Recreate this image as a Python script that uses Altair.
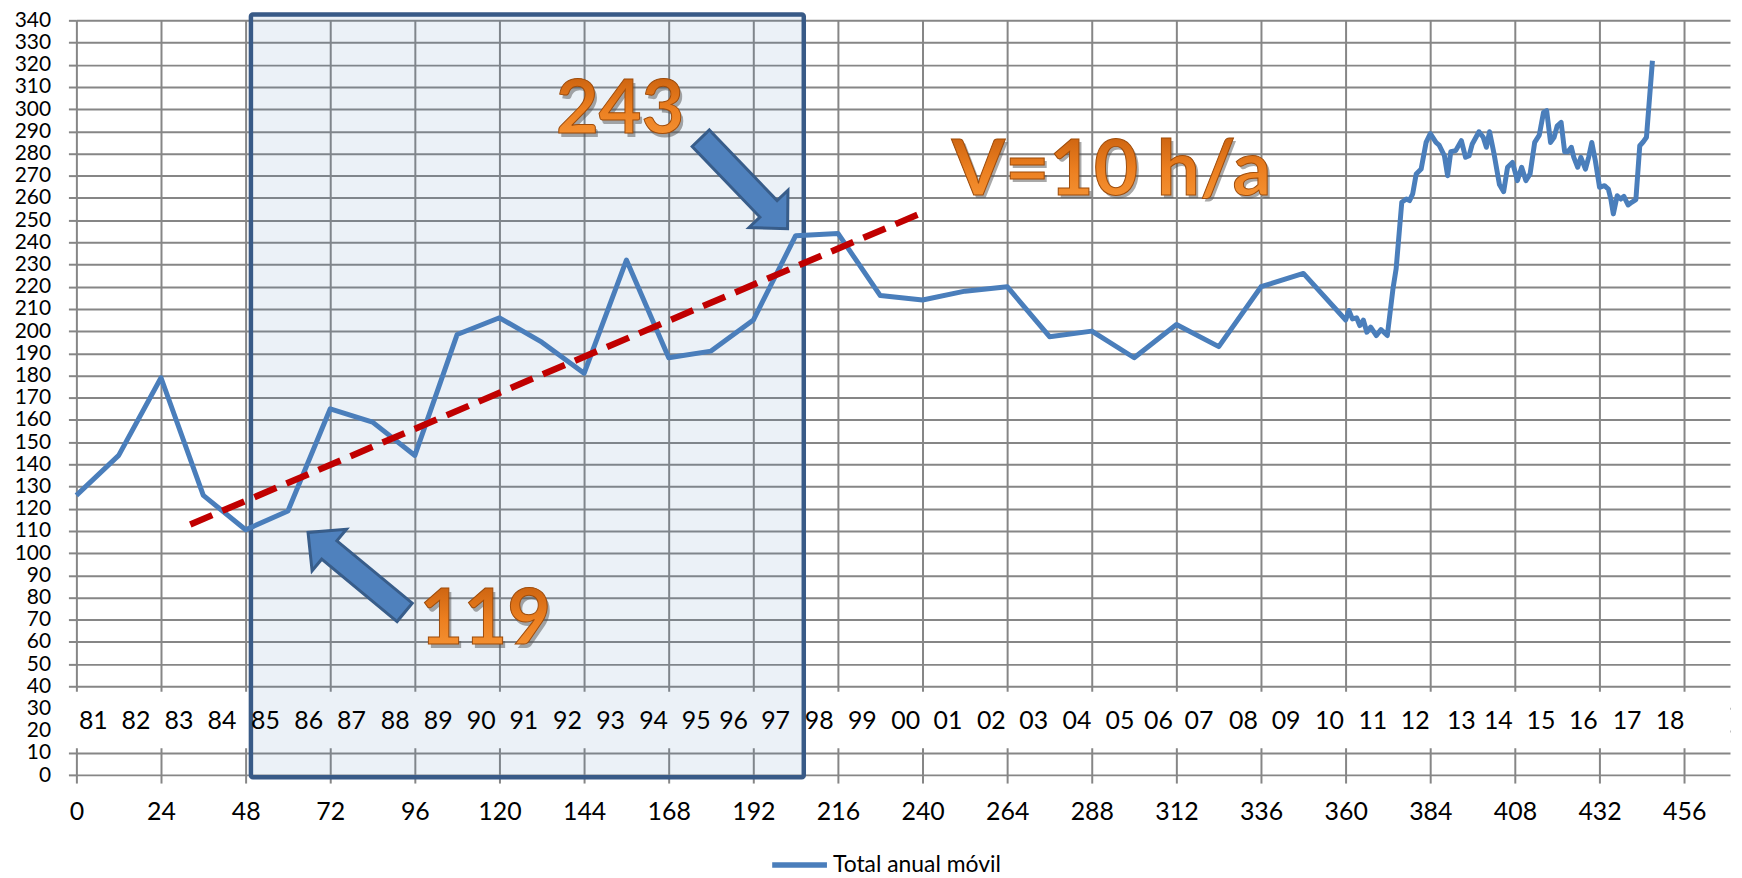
import altair as alt
import pandas as pd

# ---------------- data ----------------
series_name = "Total anual móvil"

# yearly points (months since Jan 1981)
annual_x = [0, 12, 24, 36, 48, 60, 72, 84, 96, 108, 120, 132, 144, 156, 168, 180,
            192, 204, 216, 228, 240, 252, 264, 276, 288, 300, 312, 324, 336, 348]
annual_y = [126, 144, 179, 126, 110.5, 119, 165, 159, 144, 198.5, 206, 195, 181, 232, 188, 191,
            205, 243, 244, 216, 214, 218, 220, 197.5, 200, 188, 203, 193, 220, 226]

# monthly points from 2011 on
monthly_x = [360, 360.9, 361.9, 363.1, 364, 365, 366, 367.1, 368.7, 370, 371.8, 373.4, 374.3,
             375.9, 377.2, 378.1, 379, 380, 381.4, 382.8, 384, 385.6, 386.5, 388, 388.9, 389.8,
             391.2, 392.8, 394, 395, 395.9, 397.8, 399, 399.9, 400.8, 402, 403.6, 404.8, 405.9,
             407.3, 408.7, 409.9, 411.1, 412.3, 413.6, 414.9, 416.1, 417, 418.1, 419.1, 420,
             421.1, 422.1, 423, 424, 424.7, 425.8, 426.7, 428, 428.9, 429.8, 430.8, 432, 433.4,
             434.5, 435.2, 435.9, 437, 438, 438.9, 440.1, 441.1, 442.3, 443.4, 444.4, 445.3, 447]
monthly_y = [205, 209.3, 205.5, 206, 202.5, 205, 199.5, 201.8, 198, 200.7, 198, 219, 228,
             258, 259.5, 258.8, 261.8, 270.8, 273, 285, 289, 285, 283.8, 279, 270, 280.8,
             281.3, 285.8, 278.3, 279, 284.3, 289.8, 287.3, 282.8, 289.8, 280.5, 266, 262.8, 273.8,
             276, 267.8, 273.8, 267.8, 270.8, 285, 288.3, 298.5, 299.3, 285, 287.3, 292.5,
             294, 280.8, 280.8, 282.8, 278.3, 273.8, 278.3, 273, 278.3, 285, 276.8, 264.8, 265.5,
             264, 259.5, 252.8, 261, 259.5, 260.7, 256.8, 258, 259.2, 283.5, 285.3, 287.3, 321.8]

# year labels row
year_labels = ["81", "82", "83", "84", "85", "86", "87", "88", "89", "90", "91", "92", "93",
               "94", "95", "96", "97", "98", "99", "00", "01", "02", "03", "04", "05", "06",
               "07", "08", "09", "10", "11", "12", "13", "14", "15", "16", "17", "18"]
year_pos = [4.8, 16.9, 29.1, 41.3, 53.6, 65.9, 78.0, 90.4, 102.6, 114.8, 126.9, 139.3, 151.5,
            163.7, 175.8, 186.4, 198.3, 210.7, 222.9, 235.2, 247.2, 259.5, 271.5, 283.8, 296.0,
            306.9, 318.4, 331.0, 343.1, 355.4, 367.7, 379.7, 392.8, 403.3, 415.4, 427.4, 439.8, 452.0]
year_row_y = 24.3

# trend line
trend_x = [32.3, 241.2]
trend_y = [112.9, 254.2]

# highlighted period box and white label band
box_x = [49.5, 206.3]
box_y = [-1.0, 342.6]
band_x = [-3.0, 469.0]
band_y = [12.1, 37.6]

# annotations
ann_text = ["243", "119", "V=10 h/a"]
ann_x = [154.2, 116.0, 293.6]
ann_y = [299.0, 69.3, 271.7]
ann_size = [74, 76, 77]

arrow_x = [79.4, 189.4]
arrow_y = [91.3, 266.5]
arrow_angle = [219.6, 46.2]

x_ticks = list(range(0, 457, 24))
y_ticks = list(range(0, 341, 10))
x_max = 469
y_max = 340

# ---------------- frames ----------------
df_line = pd.DataFrame({
    "x": annual_x + monthly_x,
    "y": annual_y + monthly_y,
})
df_line["series"] = series_name

df_trend = pd.DataFrame({"x": trend_x, "y": trend_y})
df_box = pd.DataFrame({"x1": [box_x[0]], "x2": [box_x[1]], "y1": [box_y[0]], "y2": [box_y[1]]})
df_band = pd.DataFrame({"x1": [band_x[0]], "x2": [band_x[1]], "y1": [band_y[0]], "y2": [band_y[1]]})
df_years = pd.DataFrame({"x": year_pos, "label": year_labels})
df_years["y"] = year_row_y
df_ann = pd.DataFrame({"x": ann_x, "y": ann_y, "t": ann_text, "s": ann_size})
df_arrow = pd.DataFrame({"x": arrow_x, "y": arrow_y, "a": arrow_angle})

# ---------------- scales & axes ----------------
GRID = "#868686"
FONT = "Lato"
xscale = alt.Scale(domain=[0, x_max], nice=False, zero=False)
yscale = alt.Scale(domain=[0, y_max], nice=False, zero=False)
xaxis = alt.Axis(values=x_ticks, title=None, grid=True, gridColor=GRID, gridWidth=2,
                 tickColor=GRID, tickWidth=2, tickSize=8, domain=False,
                 labelFont=FONT, labelFontSize=25, labelColor="black", labelPadding=16.5,
                 labelOverlap=False, labelFlush=False)
yaxis = alt.Axis(values=y_ticks, title=None, grid=True, gridColor=GRID, gridWidth=2,
                 tickColor=GRID, tickWidth=2, tickSize=8, domain=False,
                 labelFont=FONT, labelFontSize=21, labelColor="black", labelPadding=18,
                 labelOverlap=False, labelFlush=False)

X = alt.X("x:Q", scale=xscale, axis=xaxis)
Y = alt.Y("y:Q", scale=yscale, axis=yaxis)

band = alt.Chart(df_band).mark_rect(fill="white", opacity=1).encode(
    x=alt.X("x1:Q", scale=xscale, axis=xaxis), x2="x2:Q",
    y=alt.Y("y1:Q", scale=yscale, axis=yaxis), y2="y2:Q")

box = alt.Chart(df_box).mark_rect(fill="#4F81BD", fillOpacity=0.115, stroke="#385A87",
                                  strokeWidth=4.5, cornerRadius=2).encode(
    x=alt.X("x1:Q", scale=xscale, axis=xaxis), x2="x2:Q",
    y=alt.Y("y1:Q", scale=yscale, axis=yaxis), y2="y2:Q")

years = alt.Chart(df_years).mark_text(font=FONT, fontSize=25, color="black",
                                      baseline="middle", align="center").encode(
    x=X, y=Y, text="label:N")

line = alt.Chart(df_line).mark_line(strokeWidth=5, strokeJoin="round").encode(
    x=X, y=Y,
    color=alt.Color("series:N",
                    scale=alt.Scale(domain=[series_name], range=["#4A7EBB"]),
                    legend=alt.Legend(title=None, orient="none", legendX=696, legendY=818,
                                      symbolType="stroke", symbolSize=3025,
                                      symbolStrokeWidth=5.5, labelFont=FONT,
                                      labelFontSize=23, labelColor="black",
                                      labelOffset=3, labelLimit=400, padding=0)))

trend = alt.Chart(df_trend).mark_line(color="#C00000", strokeWidth=6.5,
                                      strokeDash=[24, 11]).encode(x=X, y=Y)

ARROW = "M -1 -0.19 L 0.56 -0.19 L 0.56 -0.43 L 1 0 L 0.56 0.43 L 0.56 0.19 L -1 0.19 Z"
arrows = alt.Chart(df_arrow).mark_point(shape=ARROW, filled=True, fill="#4F81BD",
                                        stroke="#385D8A", strokeWidth=3, opacity=1,
                                        size=15876).encode(
    x=X, y=Y, angle=alt.Angle("a:Q", scale=None))

shadow = alt.Chart(df_ann).mark_text(font=FONT, fontWeight="bold", color="#555555",
                                     opacity=0.5, dx=2.5, dy=3.5, baseline="middle",
                                     align="center").encode(
    x=X, y=Y, text="t:N", size=alt.Size("s:Q", scale=None, legend=None))

grad = alt.LinearGradient(gradient="linear", x1=0, x2=0, y1=0, y2=1,
                          stops=[alt.GradientStop(color="#BD5608", offset=0),
                                 alt.GradientStop(color="#EC7F20", offset=0.55),
                                 alt.GradientStop(color="#F8993A", offset=1)])
texts = alt.Chart(df_ann).mark_text(font=FONT, fontWeight="bold", fill=grad,
                                    stroke="#9E4C0B", strokeWidth=1, baseline="middle",
                                    align="center").encode(
    x=X, y=Y, text="t:N", size=alt.Size("s:Q", scale=None, legend=None))

chart = alt.layer(band, box, years, line, trend, arrows, shadow, texts).properties(
    width=x_max * 3.542,
    height=y_max * 2.233 - 1,
    autosize=alt.AutoSizeParams(type="none"),
    padding={"left": 68.7, "top": 10.4, "right": 4, "bottom": 101},
    background="white",
).configure_view(stroke=None)

chart.save("out.html", embed_options={"renderer": "svg", "actions": False})
